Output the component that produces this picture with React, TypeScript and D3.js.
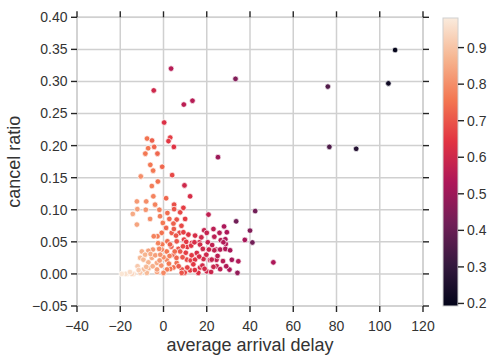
import { useEffect } from 'react';
import * as d3 from 'd3';

// [average arrival delay, cancel ratio, hue value]
const sparsePoints: [number, number, number][] = [
  [107.1, 0.349, 0.2], [104.0, 0.297, 0.22], [76.0, 0.292, 0.36], [76.7, 0.198, 0.35],
  [89.1, 0.195, 0.27], [33.3, 0.304, 0.45], [3.5, 0.32, 0.55], [-4.5, 0.286, 0.6],
  [9.4, 0.264, 0.56], [13.4, 0.27, 0.55], [25.2, 0.182, 0.5], [0.3, 0.236, 0.63],
  [42.4, 0.098, 0.42], [40.0, 0.0675, 0.45], [41.1, 0.049, 0.42], [37.6, 0.053, 0.52],
  [50.8, 0.018, 0.53], [33.6, 0.082, 0.42]
];

const upperCluster: [number, number, number][] = [
  [-7.6, 0.211, 0.75], [-5.3, 0.208, 0.72], [3.1, 0.2125, 0.66], [2.3, 0.207, 0.65],
  [4.8, 0.198, 0.64], [-7.1, 0.196, 0.76], [-4.3, 0.198, 0.73], [-8.4, 0.1875, 0.76],
  [-2.8, 0.1875, 0.73], [-6.1, 0.17, 0.76], [-0.6, 0.167, 0.73], [-4.8, 0.161, 0.76],
  [-10.5, 0.152, 0.8], [4.0, 0.154, 0.68], [-2.6, 0.144, 0.75], [9.7, 0.138, 0.6],
  [-5.4, 0.137, 0.77], [-4.7, 0.121, 0.78], [1.2, 0.118, 0.73], [12.3, 0.121, 0.62],
  [-12.3, 0.113, 0.82], [-8.0, 0.113, 0.8], [-3.9, 0.108, 0.78], [4.9, 0.108, 0.69],
  [-14.2, 0.0935, 0.85], [-12.1, 0.101, 0.83], [-8.2, 0.1, 0.81], [-1.9, 0.1, 0.77],
  [1.8, 0.095, 0.74], [4.9, 0.101, 0.7], [7.7, 0.096, 0.68], [9.2, 0.103, 0.66],
  [-1.6, 0.09, 0.77], [2.7, 0.0857, 0.73], [6.1, 0.0847, 0.7], [10.0, 0.0857, 0.66],
  [-6.2, 0.0857, 0.8], [-12.3, 0.0769, 0.84], [-0.3, 0.0795, 0.76], [4.6, 0.0784, 0.72],
  [8.3, 0.075, 0.68], [20.8, 0.0925, 0.57]
];

const middleCluster: [number, number, number][] = [
  [18.8, 0.068, 0.58], [23.1, 0.07, 0.56], [28.0, 0.074, 0.53], [29.3, 0.065, 0.53],
  [25.9, 0.064, 0.55], [20.0, 0.064, 0.58], [14.6, 0.0597, 0.62], [11.5, 0.0613, 0.64],
  [7.4, 0.064, 0.68], [3.8, 0.064, 0.71], [-0.8, 0.064, 0.75], [-2.8, 0.0587, 0.77],
  [-4.5, 0.0587, 0.78], [1.2, 0.0717, 0.73], [4.8, 0.07, 0.71], [9.2, 0.065, 0.66],
  [5.8, 0.0597, 0.7], [1.8, 0.0508, 0.74], [6.1, 0.0508, 0.7], [9.5, 0.0535, 0.66],
  [13.1, 0.0483, 0.63], [16.6, 0.0493, 0.61], [20.5, 0.0493, 0.58], [26.5, 0.0525, 0.55],
  [28.6, 0.054, 0.53], [28.8, 0.0467, 0.54], [27.7, 0.0493, 0.54], [-0.6, 0.046, 0.76],
  [3.6, 0.0425, 0.72], [6.9, 0.039, 0.7], [11.0, 0.042, 0.65], [12.8, 0.0441, 0.64],
  [16.9, 0.0457, 0.61], [14.3, 0.0493, 0.62], [18.2, 0.039, 0.6], [22.5, 0.045, 0.57],
  [3.0, 0.046, 0.72], [-2.5, 0.048, 0.78], [10.5, 0.05, 0.65], [17.5, 0.057, 0.6],
  [23.5, 0.058, 0.56]
];

const lowCluster: [number, number, number][] = [
  [24.3, 0.038, 0.57], [26.2, 0.038, 0.55], [28.6, 0.039, 0.54], [30.8, 0.0368, 0.52],
  [23.5, 0.0368, 0.57], [15.4, 0.0327, 0.62], [10.3, 0.033, 0.66], [7.7, 0.035, 0.7],
  [4.6, 0.03, 0.73], [1.5, 0.035, 0.76], [-0.8, 0.038, 0.78], [-2.0, 0.039, 0.79],
  [-4.9, 0.038, 0.82], [-7.0, 0.036, 0.84], [-10.0, 0.035, 0.86], [-10.8, 0.025, 0.88],
  [-9.3, 0.0223, 0.88], [-5.4, 0.025, 0.85], [-3.1, 0.017, 0.85], [1.5, 0.022, 0.79],
  [0.0, 0.026, 0.8], [6.1, 0.017, 0.74], [10.8, 0.0223, 0.68], [12.6, 0.021, 0.66],
  [14.6, 0.0223, 0.64], [18.5, 0.0233, 0.61], [21.5, 0.0218, 0.59], [24.5, 0.022, 0.57],
  [22.3, 0.0223, 0.58], [31.6, 0.022, 0.52], [34.6, 0.0197, 0.54], [24.6, 0.012, 0.58],
  [23.1, 0.011, 0.59], [26.2, 0.0075, 0.56], [30.5, 0.0067, 0.53], [34.2, 0.0016, 0.48],
  [20.0, 0.004, 0.6], [16.1, 0.0016, 0.63], [16.9, 0.01, 0.62], [13.8, 0.015, 0.65],
  [12.3, 0.0056, 0.66], [8.5, 0.007, 0.69], [9.8, 0.002, 0.68], [8.4, 0.0016, 0.7],
  [4.6, 0.01, 0.74], [3.1, 0.0078, 0.75], [1.6, 0.007, 0.77], [0.0, 0.0016, 0.79],
  [-3.0, 0.003, 0.83], [-3.0, 0.007, 0.83], [-6.9, 0.009, 0.87], [-7.7, 0.0016, 0.88],
  [-9.2, 0.007, 0.89], [-10.8, 0.002, 0.91], [-13.9, 0.0, 0.93], [-14.6, 0.0, 0.94],
  [-16.9, 0.0, 0.95], [-17.5, 0.0, 0.96], [-19.3, 0.0, 0.97], [-12.0, 0.012, 0.91],
  [-1.0, 0.013, 0.81], [18.0, 0.013, 0.61], [11.0, 0.01, 0.67], [6.0, 0.025, 0.73],
  [-7.0, 0.018, 0.87], [-8.5, 0.03, 0.87], [-6.0, 0.031, 0.85], [-3.8, 0.029, 0.83],
  [-1.5, 0.03, 0.81], [2.8, 0.028, 0.77], [5.2, 0.035, 0.74], [8.8, 0.026, 0.7],
  [9.0, 0.043, 0.68], [13.0, 0.029, 0.65], [16.5, 0.027, 0.62], [19.8, 0.03, 0.6],
  [21.0, 0.038, 0.59], [19.0, 0.008, 0.61], [22.0, 0.003, 0.59], [25.0, 0.028, 0.56],
  [27.5, 0.02, 0.55], [29.0, 0.012, 0.54], [14.5, 0.006, 0.64], [7.0, 0.012, 0.71],
  [2.5, 0.016, 0.76], [-1.8, 0.021, 0.82], [-5.0, 0.012, 0.86], [-8.0, 0.011, 0.88],
  [-11.5, 0.006, 0.92], [-15.5, 0.003, 0.95]
];

const xTicks = [-40, -20, 0, 20, 40, 60, 80, 100, 120];
const yTicks = [-0.05, 0, 0.05, 0.1, 0.15, 0.2, 0.25, 0.3, 0.35, 0.4];
const colorTicks = [0.2, 0.3, 0.4, 0.5, 0.6, 0.7, 0.8, 0.9];
const hueRange = [0.193, 0.981];

// seaborn "rocket" colormap anchors
const rocketStops = [0, 1 / 7, 2 / 7, 3 / 7, 4 / 7, 5 / 7, 6 / 7, 1];
const rocketColors = ['#03051a', '#35193e', '#701f57', '#ad1759', '#e13342', '#f37651', '#f6b48f', '#faebdd'];

const FONT = '"Liberation Sans", Arial, sans-serif';
const TEXT = '#333333';
const GRID = '#d0d0d0';

const fmtMinus = (s: string) => s.replace('-', '\u2212');

export default function App() {
  useEffect(() => {
    document.body.style.margin = '0';
  }, []);

  const plot = { left: 77, right: 423, top: 17.3, bottom: 306 };
  const cbar = { left: 443, right: 458, top: 18, bottom: 306 };

  const x = d3.scaleLinear().domain([-40, 120]).range([plot.left, plot.right]);
  const y = d3.scaleLinear().domain([-0.05, 0.4]).range([plot.bottom, plot.top]);
  const cy = d3.scaleLinear().domain(hueRange).range([cbar.bottom, cbar.top]);

  const rocket = d3.scaleLinear<string>().domain(rocketStops).range(rocketColors).interpolate(d3.interpolateRgb);
  const norm = d3.scaleLinear().domain(hueRange).range([0, 1]).clamp(true);
  const color = (v: number) => rocket(norm(v));

  const points = [...sparsePoints, ...upperCluster, ...middleCluster, ...lowCluster];
  const tickLen = 6;

  return (
    <svg width={496} height={356} style={{ position: 'absolute', left: 0, top: 0, background: '#fff' }} fontFamily={FONT}>
      <defs>
        <linearGradient id="rocket" x1="0" y1="1" x2="0" y2="0">
          {rocketStops.map((s, i) => (
            <stop key={i} offset={s} stopColor={rocketColors[i]} />
          ))}
        </linearGradient>
      </defs>

      {/* grid */}
      <g stroke={GRID} strokeWidth={1.5}>
        {xTicks.map((t) => (
          <line key={t} x1={x(t)} x2={x(t)} y1={plot.top} y2={plot.bottom} />
        ))}
        {yTicks.map((t) => (
          <line key={t} x1={plot.left} x2={plot.right} y1={y(t)} y2={y(t)} />
        ))}
      </g>
      <rect x={plot.left} y={plot.top} width={plot.right - plot.left} height={plot.bottom - plot.top} fill="none" stroke={GRID} strokeWidth={1.5} />

      {/* ticks on all sides */}
      <g stroke="#262626" strokeWidth={1.4}>
        {xTicks.map((t) => (
          <g key={t}>
            <line x1={x(t)} x2={x(t)} y1={plot.bottom} y2={plot.bottom + tickLen} />
            <line x1={x(t)} x2={x(t)} y1={plot.top} y2={plot.top - tickLen} />
          </g>
        ))}
        {yTicks.map((t) => (
          <g key={t}>
            <line x1={plot.left - tickLen} x2={plot.left} y1={y(t)} y2={y(t)} />
            <line x1={plot.right} x2={plot.right + tickLen} y1={y(t)} y2={y(t)} />
          </g>
        ))}
      </g>

      {/* tick labels */}
      <g fontSize={14} fill={TEXT}>
        {xTicks.map((t) => (
          <text key={t} x={x(t)} y={331} textAnchor="middle">
            {fmtMinus(String(t))}
          </text>
        ))}
        {yTicks.map((t) => (
          <text key={t} x={plot.left - tickLen - 3.5} y={y(t)} dy="0.35em" textAnchor="end">
            {fmtMinus(d3.format('.2f')(t))}
          </text>
        ))}
      </g>

      {/* points */}
      <g>
        {points.map((p, i) => (
          <circle key={i} cx={x(p[0])} cy={y(p[1])} r={2.8} fill={color(p[2])} stroke="#fff" strokeWidth={0.7} />
        ))}
      </g>

      {/* axis labels */}
      <text x={(plot.left + plot.right) / 2} y={351} textAnchor="middle" fontSize={18} fill={TEXT}>
        average arrival delay
      </text>
      <text transform={`translate(20, ${(plot.top + plot.bottom) / 2}) rotate(-90)`} textAnchor="middle" fontSize={18} fill={TEXT}>
        cancel ratio
      </text>

      {/* colorbar */}
      <rect x={cbar.left} y={cbar.top} width={cbar.right - cbar.left} height={cbar.bottom - cbar.top} fill="url(#rocket)" stroke={GRID} strokeWidth={1} />
      <g stroke="#262626" strokeWidth={1.4}>
        {colorTicks.map((t) => (
          <line key={t} x1={cbar.right} x2={cbar.right + tickLen} y1={cy(t)} y2={cy(t)} />
        ))}
      </g>
      <g fontSize={14} fill={TEXT}>
        {colorTicks.map((t) => (
          <text key={t} x={cbar.right + tickLen + 3} y={cy(t)} dy="0.35em">
            {d3.format('.1f')(t)}
          </text>
        ))}
      </g>
    </svg>
  );
}
